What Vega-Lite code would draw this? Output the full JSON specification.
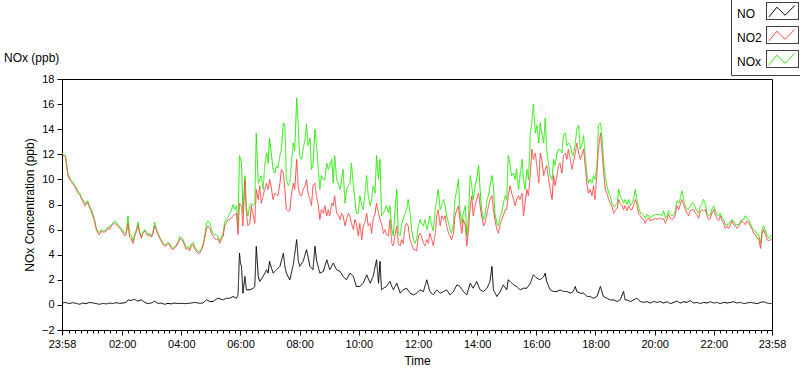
{
  "$schema": "https://vega.github.io/schema/vega-lite/v6.json",
  "width": 710,
  "height": 251,
  "autosize": {"type": "none"},
  "padding": {"left": 62, "top": 79, "right": 28, "bottom": 39},
  "title": {"text": "NOx (ppb)", "anchor": "start", "frame": "group", "dx": -58, "dy": 82, "offset": 14, "fontSize": 12, "fontWeight": "normal", "font": "Liberation Sans", "color": "#000"},
  "datasets": {
    "gas": [
      {"m":0,"NO2":12.0,"NOx":12.1},{"m":7,"NO2":11.8,"NOx":11.9},{"m":12,"NO2":10.3,"NOx":10.5},{"m":15,"NO2":10.0,"NOx":10.2},{"m":19,"NO2":9.8,"NOx":9.9},{"m":22,"NO2":9.6,"NOx":9.8},{"m":25,"NO2":9.5,"NOx":9.6},{"m":29,"NO2":9.2,"NOx":9.3},{"m":32,"NO2":8.9,"NOx":9.1},{"m":36,"NO2":8.8,"NOx":8.9},{"m":39,"NO2":8.5,"NOx":8.6},{"m":42,"NO2":8.3,"NOx":8.4},{"m":46,"NO2":7.9,"NOx":8.1},{"m":49,"NO2":8.0,"NOx":8.1},{"m":52,"NO2":8.2,"NOx":8.3},{"m":56,"NO2":7.7,"NOx":7.8},{"m":59,"NO2":7.5,"NOx":7.7},{"m":63,"NO2":7.0,"NOx":7.2},{"m":66,"NO2":6.7,"NOx":6.8},{"m":69,"NO2":6.1,"NOx":6.2},{"m":73,"NO2":5.7,"NOx":5.8},{"m":76,"NO2":5.6,"NOx":5.8},{"m":80,"NO2":5.9,"NOx":6.0},{"m":83,"NO2":5.8,"NOx":5.9},{"m":86,"NO2":5.8,"NOx":5.9},{"m":90,"NO2":5.9,"NOx":6.0},{"m":93,"NO2":6.1,"NOx":6.2},{"m":97,"NO2":6.0,"NOx":6.2},{"m":100,"NO2":6.3,"NOx":6.4},{"m":103,"NO2":6.4,"NOx":6.5},{"m":107,"NO2":6.5,"NOx":6.7},{"m":110,"NO2":6.4,"NOx":6.6},{"m":113,"NO2":6.3,"NOx":6.4},{"m":117,"NO2":6.1,"NOx":6.2},{"m":120,"NO2":6.0,"NOx":6.1},{"m":124,"NO2":5.7,"NOx":5.9},{"m":127,"NO2":5.5,"NOx":5.7},{"m":130,"NO2":5.6,"NOx":5.8},{"m":134,"NO2":6.5,"NOx":7.1},{"m":137,"NO2":5.4,"NOx":5.6},{"m":140,"NO2":5.3,"NOx":5.6},{"m":144,"NO2":4.9,"NOx":5.1},{"m":147,"NO2":5.4,"NOx":5.6},{"m":151,"NO2":5.9,"NOx":6.0},{"m":154,"NO2":6.3,"NOx":6.6},{"m":157,"NO2":5.8,"NOx":5.9},{"m":161,"NO2":5.3,"NOx":5.4},{"m":164,"NO2":5.7,"NOx":5.8},{"m":168,"NO2":5.9,"NOx":6.0},{"m":171,"NO2":5.7,"NOx":5.8},{"m":174,"NO2":5.5,"NOx":5.6},{"m":178,"NO2":5.6,"NOx":5.7},{"m":181,"NO2":5.4,"NOx":5.5},{"m":184,"NO2":5.6,"NOx":5.7},{"m":188,"NO2":6.3,"NOx":6.6},{"m":191,"NO2":6.0,"NOx":6.1},{"m":195,"NO2":5.6,"NOx":5.7},{"m":198,"NO2":5.3,"NOx":5.4},{"m":201,"NO2":5.1,"NOx":5.2},{"m":205,"NO2":4.8,"NOx":4.9},{"m":208,"NO2":4.7,"NOx":4.8},{"m":211,"NO2":4.7,"NOx":4.8},{"m":215,"NO2":4.9,"NOx":5.0},{"m":218,"NO2":4.8,"NOx":4.9},{"m":222,"NO2":4.5,"NOx":4.6},{"m":225,"NO2":4.4,"NOx":4.5},{"m":228,"NO2":4.5,"NOx":4.6},{"m":232,"NO2":4.7,"NOx":4.8},{"m":235,"NO2":4.9,"NOx":5.0},
      {"m":239,"NO2":5.3,"NOx":5.45},{"m":242,"NO2":5.2,"NOx":5.35},{"m":245,"NO2":5.1,"NOx":5.25},{"m":249,"NO2":4.7,"NOx":4.85},{"m":252,"NO2":4.4,"NOx":4.55},{"m":255,"NO2":4.5,"NOx":4.65},{"m":259,"NO2":4.3,"NOx":4.45},{"m":262,"NO2":4.7,"NOx":4.85},{"m":266,"NO2":4.8,"NOx":5.0},{"m":269,"NO2":4.5,"NOx":4.65},{"m":272,"NO2":4.3,"NOx":4.45},{"m":276,"NO2":4.1,"NOx":4.25},{"m":279,"NO2":4.1,"NOx":4.3},{"m":282,"NO2":4.3,"NOx":4.4},{"m":286,"NO2":4.7,"NOx":4.85},{"m":289,"NO2":5.2,"NOx":5.4},{"m":293,"NO2":6.0,"NOx":6.5},{"m":296,"NO2":6.3,"NOx":6.7},{"m":300,"NO2":6.1,"NOx":6.5},{"m":303,"NO2":5.7,"NOx":6.0},{"m":306,"NO2":5.5,"NOx":5.7},{"m":309,"NO2":5.3,"NOx":5.6},{"m":313,"NO2":5.2,"NOx":5.6},{"m":316,"NO2":5.3,"NOx":5.5},{"m":320,"NO2":4.9,"NOx":5.1},{"m":323,"NO2":5.2,"NOx":5.4},{"m":327,"NO2":5.5,"NOx":5.7},{"m":330,"NO2":6.3,"NOx":6.6},{"m":333,"NO2":6.5,"NOx":6.8},{"m":337,"NO2":6.8,"NOx":7.0},{"m":340,"NO2":6.8,"NOx":7.3},{"m":343,"NO2":6.9,"NOx":7.5},{"m":347,"NO2":7.1,"NOx":8.0},{"m":350,"NO2":7.2,"NOx":7.6},{"m":354,"NO2":7.3,"NOx":7.9},{"m":357,"NO2":5.6,"NOx":6.2},{"m":360,"NO2":8.1,"NOx":11.9},{"m":364,"NO2":7.9,"NOx":11.3},{"m":367,"NO2":6.3,"NOx":7.3},{"m":371,"NO2":10.0,"NOx":10.3},{"m":374,"NO2":7.3,"NOx":7.8},{"m":377,"NO2":6.3,"NOx":7.1},{"m":381,"NO2":6.5,"NOx":7.9},{"m":384,"NO2":7.9,"NOx":8.1},{"m":388,"NO2":7.1,"NOx":7.9},{"m":391,"NO2":6.5,"NOx":8.1},{"m":394,"NO2":9.2,"NOx":13.7},{"m":398,"NO2":8.4,"NOx":9.7},{"m":401,"NO2":9.5,"NOx":10.0},{"m":404,"NO2":8.1,"NOx":10.3},{"m":408,"NO2":8.7,"NOx":9.2},{"m":411,"NO2":9.2,"NOx":11.1},{"m":415,"NO2":9.7,"NOx":12.1},{"m":418,"NO2":9.2,"NOx":11.3},{"m":421,"NO2":10.0,"NOx":13.3},{"m":425,"NO2":9.2,"NOx":11.9},{"m":428,"NO2":8.4,"NOx":10.8},{"m":432,"NO2":8.9,"NOx":10.5},{"m":435,"NO2":8.8,"NOx":11.1},{"m":438,"NO2":8.7,"NOx":10.9},{"m":442,"NO2":9.7,"NOx":11.9},{"m":445,"NO2":10.8,"NOx":12.4},{"m":449,"NO2":10.5,"NOx":14.5},{"m":452,"NO2":9.2,"NOx":14.3},{"m":455,"NO2":7.6,"NOx":10.0},{"m":459,"NO2":7.5,"NOx":9.5},{"m":462,"NO2":7.5,"NOx":9.7},{"m":465,"NO2":8.7,"NOx":11.1},{"m":469,"NO2":9.7,"NOx":12.9},{"m":472,"NO2":9.2,"NOx":12.3},{"m":476,"NO2":11.6,"NOx":16.5},{"m":479,"NO2":9.5,"NOx":14.3},
      {"m":482,"NO2":8.8,"NOx":11.9},{"m":486,"NO2":8.7,"NOx":11.6},{"m":489,"NO2":9.2,"NOx":12.4},{"m":493,"NO2":9.5,"NOx":13.2},{"m":496,"NO2":10.0,"NOx":14.4},{"m":499,"NO2":8.9,"NOx":12.7},{"m":503,"NO2":8.4,"NOx":13.3},{"m":506,"NO2":7.9,"NOx":10.8},{"m":509,"NO2":9.5,"NOx":11.1},{"m":513,"NO2":9.7,"NOx":14.0},{"m":516,"NO2":8.7,"NOx":12.8},{"m":520,"NO2":7.9,"NOx":10.8},{"m":523,"NO2":6.8,"NOx":9.2},{"m":526,"NO2":7.6,"NOx":10.3},{"m":530,"NO2":7.3,"NOx":10.0},{"m":533,"NO2":7.9,"NOx":10.0},{"m":537,"NO2":7.1,"NOx":11.3},{"m":540,"NO2":7.6,"NOx":10.8},{"m":543,"NO2":7.1,"NOx":11.1},{"m":547,"NO2":8.1,"NOx":11.6},{"m":550,"NO2":7.9,"NOx":9.7},{"m":553,"NO2":8.7,"NOx":11.9},{"m":557,"NO2":7.3,"NOx":10.0},{"m":560,"NO2":7.2,"NOx":9.7},{"m":564,"NO2":6.8,"NOx":9.2},{"m":567,"NO2":7.3,"NOx":10.0},{"m":570,"NO2":7.1,"NOx":10.8},{"m":574,"NO2":6.3,"NOx":8.1},{"m":577,"NO2":6.8,"NOx":9.2},{"m":581,"NO2":7.3,"NOx":9.5},{"m":584,"NO2":7.1,"NOx":9.7},{"m":587,"NO2":6.5,"NOx":11.3},{"m":591,"NO2":6.0,"NOx":9.5},{"m":594,"NO2":6.8,"NOx":8.4},{"m":597,"NO2":6.5,"NOx":7.3},{"m":601,"NO2":5.5,"NOx":7.3},{"m":604,"NO2":6.5,"NOx":8.7},{"m":608,"NO2":5.2,"NOx":7.9},{"m":611,"NO2":6.3,"NOx":7.6},{"m":614,"NO2":6.5,"NOx":8.7},{"m":618,"NO2":7.3,"NOx":10.3},{"m":621,"NO2":6.3,"NOx":8.7},{"m":625,"NO2":6.5,"NOx":7.9},{"m":628,"NO2":5.7,"NOx":8.4},{"m":631,"NO2":6.8,"NOx":9.5},{"m":635,"NO2":7.3,"NOx":8.9},{"m":638,"NO2":8.1,"NOx":11.9},{"m":642,"NO2":7.3,"NOx":10.0},{"m":645,"NO2":6.8,"NOx":11.6},{"m":648,"NO2":6.5,"NOx":7.1},{"m":652,"NO2":5.7,"NOx":7.3},{"m":655,"NO2":6.0,"NOx":7.6},{"m":658,"NO2":5.6,"NOx":7.9},{"m":662,"NO2":5.5,"NOx":7.3},{"m":665,"NO2":6.8,"NOx":7.9},{"m":669,"NO2":4.9,"NOx":6.0},{"m":672,"NO2":4.7,"NOx":5.5},{"m":675,"NO2":5.5,"NOx":7.3},{"m":679,"NO2":6.3,"NOx":9.2},{"m":682,"NO2":4.9,"NOx":5.7},{"m":686,"NO2":4.7,"NOx":5.5},{"m":689,"NO2":5.2,"NOx":6.5},{"m":692,"NO2":4.9,"NOx":6.8},{"m":696,"NO2":6.3,"NOx":7.3},{"m":699,"NO2":6.5,"NOx":7.6},{"m":702,"NO2":6.3,"NOx":8.4},{"m":706,"NO2":5.2,"NOx":7.3},{"m":709,"NO2":4.9,"NOx":6.0},{"m":713,"NO2":4.4,"NOx":5.2},{"m":716,"NO2":4.4,"NOx":4.9},{"m":719,"NO2":4.3,"NOx":5.2},{"m":723,"NO2":5.5,"NOx":6.3},
      {"m":726,"NO2":5.7,"NOx":6.8},{"m":729,"NO2":5.5,"NOx":6.5},{"m":733,"NO2":4.9,"NOx":6.3},{"m":736,"NO2":4.7,"NOx":6.8},{"m":740,"NO2":5.2,"NOx":6.0},{"m":743,"NO2":4.9,"NOx":6.5},{"m":746,"NO2":5.7,"NOx":7.1},{"m":750,"NO2":5.2,"NOx":6.3},{"m":753,"NO2":4.7,"NOx":5.9},{"m":757,"NO2":5.7,"NOx":7.6},{"m":760,"NO2":7.1,"NOx":8.4},{"m":763,"NO2":7.6,"NOx":9.2},{"m":767,"NO2":6.3,"NOx":7.6},{"m":770,"NO2":7.1,"NOx":7.9},{"m":774,"NO2":6.8,"NOx":8.4},{"m":777,"NO2":7.1,"NOx":7.9},{"m":780,"NO2":6.3,"NOx":7.1},{"m":784,"NO2":5.7,"NOx":6.5},{"m":787,"NO2":5.5,"NOx":6.0},{"m":790,"NO2":5.2,"NOx":5.7},{"m":794,"NO2":5.7,"NOx":6.5},{"m":797,"NO2":7.1,"NOx":8.4},{"m":801,"NO2":7.6,"NOx":9.2},{"m":804,"NO2":7.9,"NOx":10.0},{"m":807,"NO2":6.8,"NOx":7.6},{"m":811,"NO2":5.7,"NOx":6.5},{"m":814,"NO2":6.8,"NOx":7.3},{"m":818,"NO2":6.3,"NOx":7.9},{"m":821,"NO2":4.7,"NOx":5.5},{"m":824,"NO2":5.7,"NOx":6.8},{"m":828,"NO2":7.9,"NOx":10.3},{"m":831,"NO2":8.7,"NOx":9.5},{"m":834,"NO2":7.1,"NOx":8.4},{"m":838,"NO2":7.9,"NOx":9.5},{"m":841,"NO2":8.4,"NOx":10.0},{"m":845,"NO2":8.9,"NOx":11.1},{"m":848,"NO2":7.9,"NOx":9.2},{"m":851,"NO2":7.1,"NOx":7.6},{"m":855,"NO2":6.3,"NOx":6.8},{"m":858,"NO2":6.5,"NOx":7.1},{"m":862,"NO2":7.3,"NOx":8.4},{"m":865,"NO2":7.9,"NOx":8.7},{"m":868,"NO2":8.4,"NOx":9.5},{"m":872,"NO2":8.7,"NOx":10.3},{"m":875,"NO2":7.6,"NOx":9.5},{"m":878,"NO2":6.8,"NOx":7.3},{"m":882,"NO2":6.0,"NOx":6.5},{"m":885,"NO2":5.7,"NOx":6.3},{"m":889,"NO2":6.5,"NOx":7.1},{"m":892,"NO2":6.8,"NOx":7.3},{"m":895,"NO2":7.1,"NOx":8.1},{"m":899,"NO2":7.6,"NOx":8.7},{"m":902,"NO2":7.6,"NOx":8.4},{"m":905,"NO2":8.7,"NOx":11.9},{"m":909,"NO2":9.5,"NOx":11.1},{"m":912,"NO2":8.9,"NOx":10.3},{"m":916,"NO2":8.4,"NOx":10.5},{"m":919,"NO2":7.9,"NOx":10.0},{"m":922,"NO2":8.4,"NOx":10.8},{"m":926,"NO2":8.7,"NOx":9.2},{"m":929,"NO2":8.4,"NOx":10.3},{"m":933,"NO2":8.9,"NOx":11.6},{"m":936,"NO2":7.1,"NOx":10.0},{"m":939,"NO2":8.1,"NOx":9.2},{"m":943,"NO2":9.2,"NOx":10.8},{"m":946,"NO2":8.7,"NOx":10.0},{"m":950,"NO2":10.5,"NOx":13.7},{"m":953,"NO2":12.4,"NOx":14.5},{"m":956,"NO2":11.6,"NOx":16.0},{"m":960,"NO2":12.1,"NOx":13.7},{"m":963,"NO2":11.1,"NOx":14.3},{"m":967,"NO2":9.7,"NOx":12.9},
      {"m":970,"NO2":12.1,"NOx":14.5},{"m":973,"NO2":11.6,"NOx":13.7},{"m":977,"NO2":10.3,"NOx":12.9},{"m":980,"NO2":10.8,"NOx":14.9},{"m":983,"NO2":11.1,"NOx":12.4},{"m":987,"NO2":10.0,"NOx":11.1},{"m":990,"NO2":9.2,"NOx":10.3},{"m":994,"NO2":8.4,"NOx":10.0},{"m":997,"NO2":10.3,"NOx":11.6},{"m":1000,"NO2":9.5,"NOx":11.1},{"m":1004,"NO2":10.3,"NOx":12.1},{"m":1007,"NO2":11.1,"NOx":12.4},{"m":1010,"NO2":11.3,"NOx":12.4},{"m":1014,"NO2":10.5,"NOx":12.1},{"m":1017,"NO2":11.9,"NOx":13.5},{"m":1021,"NO2":12.1,"NOx":13.7},{"m":1024,"NO2":11.6,"NOx":12.7},{"m":1027,"NO2":12.4,"NOx":12.9},{"m":1031,"NO2":11.6,"NOx":12.7},{"m":1034,"NO2":10.8,"NOx":12.1},{"m":1037,"NO2":11.3,"NOx":11.9},{"m":1041,"NO2":12.1,"NOx":12.9},{"m":1044,"NO2":12.9,"NOx":14.0},{"m":1048,"NO2":12.1,"NOx":14.3},{"m":1051,"NO2":11.6,"NOx":12.4},{"m":1054,"NO2":11.9,"NOx":12.7},{"m":1058,"NO2":12.4,"NOx":13.5},{"m":1061,"NO2":11.1,"NOx":11.9},{"m":1065,"NO2":9.5,"NOx":10.3},{"m":1068,"NO2":8.9,"NOx":9.7},{"m":1071,"NO2":9.2,"NOx":10.0},{"m":1075,"NO2":8.7,"NOx":9.7},{"m":1078,"NO2":9.5,"NOx":10.3},{"m":1081,"NO2":8.4,"NOx":10.0},{"m":1085,"NO2":10.5,"NOx":11.1},{"m":1088,"NO2":12.4,"NOx":14.3},{"m":1092,"NO2":13.7,"NOx":14.5},{"m":1095,"NO2":12.4,"NOx":13.5},{"m":1098,"NO2":10.8,"NOx":11.6},{"m":1102,"NO2":9.2,"NOx":10.3},{"m":1105,"NO2":8.9,"NOx":9.5},{"m":1109,"NO2":8.4,"NOx":8.9},{"m":1112,"NO2":8.1,"NOx":8.7},{"m":1115,"NO2":7.9,"NOx":8.1},{"m":1119,"NO2":7.3,"NOx":7.9},{"m":1122,"NO2":7.5,"NOx":7.9},{"m":1126,"NO2":7.7,"NOx":8.1},{"m":1129,"NO2":8.4,"NOx":9.2},{"m":1132,"NO2":8.1,"NOx":8.7},{"m":1136,"NO2":7.9,"NOx":8.4},{"m":1139,"NO2":7.6,"NOx":8.1},{"m":1142,"NO2":7.9,"NOx":8.4},{"m":1146,"NO2":7.5,"NOx":8.0},{"m":1149,"NO2":7.9,"NOx":8.4},{"m":1153,"NO2":7.6,"NOx":7.9},{"m":1156,"NO2":7.6,"NOx":8.1},{"m":1159,"NO2":7.9,"NOx":8.4},{"m":1163,"NO2":8.4,"NOx":9.2},{"m":1166,"NO2":8.0,"NOx":8.4},{"m":1169,"NO2":7.3,"NOx":7.9},{"m":1173,"NO2":7.1,"NOx":7.3},{"m":1176,"NO2":6.9,"NOx":7.3},{"m":1180,"NO2":6.8,"NOx":7.1},{"m":1183,"NO2":6.5,"NOx":6.9},{"m":1186,"NO2":6.8,"NOx":7.2},{"m":1190,"NO2":6.9,"NOx":7.1},{"m":1193,"NO2":6.7,"NOx":6.9},{"m":1197,"NO2":6.8,"NOx":7.1},{"m":1200,"NO2":6.8,"NOx":7.1},{"m":1203,"NO2":6.9,"NOx":7.2},{"m":1207,"NO2":6.8,"NOx":7.2},{"m":1210,"NO2":6.9,"NOx":7.2},
      {"m":1214,"NO2":6.9,"NOx":7.2},{"m":1217,"NO2":6.8,"NOx":7.1},{"m":1220,"NO2":6.9,"NOx":7.5},{"m":1224,"NO2":6.5,"NOx":6.9},{"m":1227,"NO2":6.8,"NOx":7.1},{"m":1230,"NO2":7.2,"NOx":7.5},{"m":1234,"NO2":6.9,"NOx":7.2},{"m":1237,"NO2":6.8,"NOx":7.1},{"m":1241,"NO2":6.9,"NOx":7.2},{"m":1244,"NO2":7.2,"NOx":7.5},{"m":1247,"NO2":7.9,"NOx":8.3},{"m":1251,"NO2":7.6,"NOx":8.1},{"m":1254,"NO2":8.0,"NOx":8.5},{"m":1257,"NO2":8.4,"NOx":9.1},{"m":1261,"NO2":8.0,"NOx":8.4},{"m":1264,"NO2":7.6,"NOx":7.9},{"m":1268,"NO2":7.3,"NOx":7.6},{"m":1271,"NO2":7.1,"NOx":7.6},{"m":1274,"NO2":7.5,"NOx":7.9},{"m":1278,"NO2":7.6,"NOx":8.1},{"m":1281,"NO2":7.6,"NOx":8.1},{"m":1285,"NO2":7.3,"NOx":7.7},{"m":1288,"NO2":7.2,"NOx":7.5},{"m":1291,"NO2":6.9,"NOx":7.3},{"m":1295,"NO2":7.5,"NOx":7.9},{"m":1298,"NO2":7.6,"NOx":8.0},{"m":1301,"NO2":7.5,"NOx":8.4},{"m":1305,"NO2":7.6,"NOx":8.0},{"m":1308,"NO2":7.1,"NOx":7.3},{"m":1312,"NO2":6.8,"NOx":7.1},{"m":1315,"NO2":6.9,"NOx":7.2},{"m":1318,"NO2":7.3,"NOx":7.6},{"m":1322,"NO2":7.6,"NOx":7.9},{"m":1325,"NO2":7.2,"NOx":7.5},{"m":1328,"NO2":6.9,"NOx":7.2},{"m":1332,"NO2":6.7,"NOx":7.1},{"m":1335,"NO2":7.1,"NOx":7.3},{"m":1339,"NO2":6.7,"NOx":6.9},{"m":1342,"NO2":6.5,"NOx":6.8},{"m":1345,"NO2":6.1,"NOx":6.4},{"m":1349,"NO2":6.3,"NOx":6.4},{"m":1352,"NO2":6.1,"NOx":6.4},{"m":1356,"NO2":6.4,"NOx":6.7},{"m":1359,"NO2":6.7,"NOx":6.8},{"m":1362,"NO2":6.4,"NOx":6.7},{"m":1366,"NO2":6.3,"NOx":6.4},{"m":1369,"NO2":6.1,"NOx":6.4},{"m":1373,"NO2":6.3,"NOx":6.4},{"m":1376,"NO2":6.5,"NOx":6.7},{"m":1379,"NO2":6.7,"NOx":6.8},{"m":1383,"NO2":6.5,"NOx":6.8},{"m":1386,"NO2":6.4,"NOx":7.1},{"m":1389,"NO2":6.7,"NOx":6.9},{"m":1393,"NO2":6.5,"NOx":6.8},{"m":1396,"NO2":6.3,"NOx":6.5},{"m":1400,"NO2":6.0,"NOx":6.1},{"m":1403,"NO2":5.7,"NOx":6.0},{"m":1406,"NO2":5.6,"NOx":5.9},{"m":1410,"NO2":5.3,"NOx":5.6},{"m":1413,"NO2":5.3,"NOx":5.6},{"m":1417,"NO2":4.5,"NOx":4.9},{"m":1420,"NO2":5.7,"NOx":6.0},{"m":1423,"NO2":6.0,"NOx":6.3},{"m":1427,"NO2":5.6,"NOx":5.9},{"m":1430,"NO2":5.2,"NOx":5.5},{"m":1434,"NO2":5.1,"NOx":5.3},{"m":1437,"NO2":5.2,"NOx":5.5},{"m":1440,"NO2":5.3,"NOx":5.5}
    ],
    "no": [
      {"m":0,"NO":0.15},{"m":7,"NO":0.2},{"m":14,"NO":0.1},{"m":22,"NO":0.18},{"m":29,"NO":0.12},{"m":36,"NO":0.05},{"m":42,"NO":0.15},{"m":49,"NO":0.1},{"m":56,"NO":0.2},{"m":63,"NO":0.15},{"m":70,"NO":0.1},{"m":76,"NO":0.05},{"m":83,"NO":0.12},{"m":90,"NO":0.08},{"m":97,"NO":0.15},{"m":103,"NO":0.1},{"m":110,"NO":0.18},{"m":117,"NO":0.12},{"m":124,"NO":0.15},{"m":130,"NO":0.2},{"m":134,"NO":0.4},{"m":140,"NO":0.35},{"m":147,"NO":0.45},{"m":154,"NO":0.3},{"m":161,"NO":0.4},{"m":168,"NO":0.2},{"m":174,"NO":0.1},{"m":181,"NO":0.15},{"m":188,"NO":0.3},{"m":195,"NO":0.1},{"m":201,"NO":0.15},{"m":208,"NO":0.05},{"m":215,"NO":0.12},{"m":222,"NO":0.08},{"m":228,"NO":0.15},{"m":235,"NO":0.1},
      {"m":239,"NO":0.13},{"m":249,"NO":0.1},{"m":259,"NO":0.13},{"m":269,"NO":0.2},{"m":279,"NO":0.13},{"m":286,"NO":0.15},{"m":293,"NO":0.4},{"m":300,"NO":0.27},{"m":306,"NO":0.27},{"m":316,"NO":0.53},{"m":327,"NO":0.4},{"m":333,"NO":0.53},{"m":340,"NO":0.53},{"m":347,"NO":0.67},{"m":354,"NO":0.53},{"m":357,"NO":0.8},{"m":360,"NO":4.13},{"m":362,"NO":3.3},{"m":364,"NO":3.07},{"m":367,"NO":0.93},{"m":371,"NO":2.27},{"m":374,"NO":1.2},{"m":381,"NO":1.2},{"m":388,"NO":1.33},{"m":391,"NO":1.47},{"m":394,"NO":4.67},{"m":398,"NO":2.27},{"m":401,"NO":1.87},{"m":408,"NO":2.27},{"m":415,"NO":2.8},{"m":418,"NO":2.53},{"m":421,"NO":3.47},{"m":428,"NO":2.53},{"m":435,"NO":2.8},{"m":442,"NO":3.07},{"m":449,"NO":4.13},{"m":452,"NO":3.07},{"m":455,"NO":2.53},{"m":462,"NO":2.0},{"m":469,"NO":3.2},{"m":476,"NO":5.2},{"m":479,"NO":3.6},
      {"m":482,"NO":3.07},{"m":489,"NO":3.47},{"m":496,"NO":4.4},{"m":503,"NO":3.07},{"m":509,"NO":2.8},{"m":513,"NO":4.67},{"m":516,"NO":3.6},{"m":523,"NO":2.53},{"m":530,"NO":2.67},{"m":537,"NO":3.6},{"m":543,"NO":2.8},{"m":550,"NO":3.33},{"m":557,"NO":2.8},{"m":564,"NO":2.67},{"m":570,"NO":2.27},{"m":577,"NO":2.0},{"m":584,"NO":2.53},{"m":591,"NO":2.27},{"m":597,"NO":1.47},{"m":604,"NO":1.47},{"m":611,"NO":1.73},{"m":618,"NO":2.4},{"m":625,"NO":1.73},{"m":631,"NO":2.27},{"m":638,"NO":3.6},{"m":642,"NO":1.73},{"m":645,"NO":3.47},{"m":648,"NO":1.2},{"m":652,"NO":1.33},{"m":658,"NO":1.47},{"m":665,"NO":1.87},{"m":672,"NO":1.2},{"m":679,"NO":1.73},{"m":686,"NO":0.93},{"m":692,"NO":1.2},{"m":699,"NO":1.33},{"m":706,"NO":0.93},{"m":713,"NO":0.8},{"m":719,"NO":0.93},{"m":723,"NO":1.07},
      {"m":726,"NO":1.2},{"m":733,"NO":1.07},{"m":740,"NO":2.0},{"m":746,"NO":1.07},{"m":753,"NO":0.8},{"m":760,"NO":1.2},{"m":767,"NO":0.93},{"m":774,"NO":1.07},{"m":780,"NO":1.2},{"m":787,"NO":0.8},{"m":794,"NO":1.07},{"m":801,"NO":1.6},{"m":807,"NO":1.47},{"m":814,"NO":1.07},{"m":821,"NO":0.8},{"m":828,"NO":1.73},{"m":834,"NO":1.33},{"m":841,"NO":1.87},{"m":848,"NO":1.2},{"m":855,"NO":1.07},{"m":862,"NO":1.33},{"m":868,"NO":1.87},{"m":872,"NO":3.07},{"m":875,"NO":1.2},{"m":882,"NO":0.67},{"m":889,"NO":1.07},{"m":895,"NO":1.6},{"m":902,"NO":1.2},{"m":905,"NO":2.0},{"m":909,"NO":1.87},{"m":916,"NO":1.6},{"m":922,"NO":1.47},{"m":929,"NO":1.2},{"m":936,"NO":1.33},{"m":943,"NO":1.33},{"m":950,"NO":1.73},{"m":956,"NO":2.4},{"m":963,"NO":2.13},
      {"m":970,"NO":2.0},{"m":977,"NO":2.27},{"m":980,"NO":2.53},{"m":983,"NO":1.87},{"m":990,"NO":1.2},{"m":997,"NO":1.07},{"m":1004,"NO":1.07},{"m":1010,"NO":1.2},{"m":1017,"NO":1.07},{"m":1024,"NO":1.07},{"m":1031,"NO":0.93},{"m":1037,"NO":1.07},{"m":1041,"NO":1.47},{"m":1044,"NO":1.07},{"m":1051,"NO":0.93},{"m":1058,"NO":0.93},{"m":1065,"NO":0.67},{"m":1071,"NO":0.67},{"m":1078,"NO":0.53},{"m":1085,"NO":0.67},{"m":1092,"NO":1.47},{"m":1095,"NO":1.07},{"m":1098,"NO":0.67},{"m":1105,"NO":0.53},{"m":1112,"NO":0.4},{"m":1119,"NO":0.4},{"m":1126,"NO":0.27},{"m":1132,"NO":0.4},{"m":1139,"NO":1.07},{"m":1142,"NO":0.4},{"m":1146,"NO":0.4},{"m":1153,"NO":0.27},{"m":1159,"NO":0.4},{"m":1166,"NO":0.53},{"m":1173,"NO":0.27},{"m":1180,"NO":0.2},{"m":1186,"NO":0.27},{"m":1193,"NO":0.15},{"m":1200,"NO":0.27},{"m":1207,"NO":0.2},{"m":1213,"NO":0.27},
      {"m":1220,"NO":0.15},{"m":1227,"NO":0.25},{"m":1234,"NO":0.1},{"m":1241,"NO":0.2},{"m":1247,"NO":0.3},{"m":1254,"NO":0.15},{"m":1261,"NO":0.25},{"m":1268,"NO":0.2},{"m":1274,"NO":0.35},{"m":1281,"NO":0.15},{"m":1288,"NO":0.2},{"m":1295,"NO":0.1},{"m":1301,"NO":0.2},{"m":1308,"NO":0.15},{"m":1315,"NO":0.25},{"m":1322,"NO":0.15},{"m":1328,"NO":0.2},{"m":1335,"NO":0.1},{"m":1342,"NO":0.2},{"m":1349,"NO":0.15},{"m":1356,"NO":0.2},{"m":1362,"NO":0.25},{"m":1369,"NO":0.15},{"m":1376,"NO":0.2},{"m":1383,"NO":0.1},{"m":1389,"NO":0.15},{"m":1396,"NO":0.2},{"m":1403,"NO":0.15},{"m":1410,"NO":0.1},{"m":1417,"NO":0.2},{"m":1423,"NO":0.25},{"m":1430,"NO":0.15},{"m":1437,"NO":0.1},{"m":1440,"NO":0.12}
    ]
  },
  "layer": [
    {
      "data": {"name": "gas"},
      "mark": {"type": "line", "strokeWidth": 1},
      "encoding": {
        "x": {"field": "m", "type": "quantitative",
          "scale": {"domain": [0, 1440], "nice": false, "zero": false},
          "axis": {
            "title": "Time",
            "values": [0,14,26,38,50,62,74,86,98,110,122,134,146,158,170,182,194,206,218,230,242,254,266,278,290,302,314,326,338,350,362,374,386,398,410,422,434,446,458,470,482,494,506,518,530,542,554,566,578,590,602,614,626,638,650,662,674,686,698,710,722,734,746,758,770,782,794,806,818,830,842,854,866,878,890,902,914,926,938,950,962,974,986,998,1010,1022,1034,1046,1058,1070,1082,1094,1106,1118,1130,1142,1154,1166,1178,1190,1202,1214,1226,1238,1250,1262,1274,1286,1298,1310,1322,1334,1346,1358,1370,1382,1394,1406,1418,1430,1440],
            "tickCount": 1000,
            "labelExpr": "indexof([0,122,242,362,482,602,722,842,962,1082,1202,1322,1440], datum.value) >= 0 ? timeFormat(datetime(2020,0,1,0,(datum.value+1438)%1440),'%H:%M') : ''",
            "tickSize": {"condition": {"test": "indexof([0,122,242,362,482,602,722,842,962,1082,1202,1322,1440], datum.value) >= 0", "value": 5}, "value": 3},
            "labelOverlap": false,
            "labelFlush": false,
            "labelBound": false,
            "grid": false,
            "labelPadding": 3,
            "titlePadding": 6
          }
        },
        "y": {"field": "NOx", "type": "quantitative",
          "scale": {"domain": [-2, 18], "nice": false, "zero": false},
          "axis": {"title": "NOx Concentration (ppb)", "values": [-2,0,2,4,6,8,10,12,14,16,18], "format": "d", "tickCount": 100, "labelOverlap": false, "labelBound": false, "grid": false, "tickSize": 5, "labelPadding": 3, "titlePadding": 5}
        },
        "color": {"datum": "NOx", "type": "nominal",
          "scale": {"domain": ["NO", "NO2", "NOx"], "range": ["#000000", "#ff4646", "#22ee00"]},
          "legend": {
            "orient": "none", "legendX": 669, "legendY": -82, "title": null, "padding": 5,
            "symbolType": "M-1.88,-1M1.88,1M-1.6,0.7L-0.65,-0.45L0.3,0.5L1.45,-0.65",
            "symbolSize": 289, "symbolStrokeWidth": 1, "symbolFillColor": "transparent", "symbolOffset": 37.5,
            "labelAlign": "left", "labelOffset": -54.5, "labelFontSize": 12, "labelColor": "#000", "labelFont": "Liberation Sans",
            "rowPadding": 2,
            "encode": {"labels": {"update": {"dy": {"value": 3}}}}
          }
        },
        "strokeDash": {"datum": "c", "type": "nominal",
          "scale": {"domain": ["a", "b", "c"], "range": [[1, 0], [1, 0], [1, 0]]},
          "legend": {
            "orient": "none", "legendX": 669, "legendY": -82, "title": null, "padding": 5,
            "strokeColor": "#404040",
            "symbolType": "M-1.88,-1H1.88V1H-1.88Z",
            "symbolSize": 289, "symbolStrokeWidth": 1, "symbolFillColor": "transparent", "symbolStrokeColor": "#000", "symbolOffset": 37.5,
            "labelExpr": "{'a':'NO','b':'NO2','c':'NOx'}[datum.label]",
            "labelAlign": "left", "labelOffset": -54.5, "labelFontSize": 12, "labelColor": "transparent", "labelFont": "Liberation Sans",
            "rowPadding": 2,
            "encode": {
              "symbols": {"update": {"stroke": {"value": "#000000"}, "strokeDash": {"value": [1, 0]}}},
              "labels": {"update": {"dy": {"value": 3}}},
              "legend": {"update": {"width": {"value": 72}, "height": {"value": 72}}}
            }
          }
        }
      }
    },
    {
      "data": {"name": "gas"},
      "mark": {"type": "line", "strokeWidth": 1},
      "encoding": {
        "x": {"field": "m", "type": "quantitative"},
        "y": {"field": "NO2", "type": "quantitative", "title": "NOx Concentration (ppb)"},
        "color": {"datum": "NO2", "type": "nominal"},
        "strokeDash": {"datum": "b", "type": "nominal"}
      }
    },
    {
      "data": {"name": "no"},
      "mark": {"type": "line", "strokeWidth": 1},
      "encoding": {
        "x": {"field": "m", "type": "quantitative", "title": "Time"},
        "y": {"field": "NO", "type": "quantitative", "title": "NOx Concentration (ppb)"},
        "color": {"datum": "NO", "type": "nominal"},
        "strokeDash": {"datum": "a", "type": "nominal"}
      }
    }
  ],
  "config": {
    "font": "Liberation Sans",
    "view": {"stroke": "#000"},
    "axis": {
      "domainColor": "#000", "tickColor": "#000", "labelColor": "#000", "titleColor": "#000",
      "labelFont": "Liberation Sans", "titleFont": "Liberation Sans",
      "labelFontSize": 11, "titleFontSize": 12, "titleFontWeight": "normal",
      "labelOverlap": false
    }
  }
}
